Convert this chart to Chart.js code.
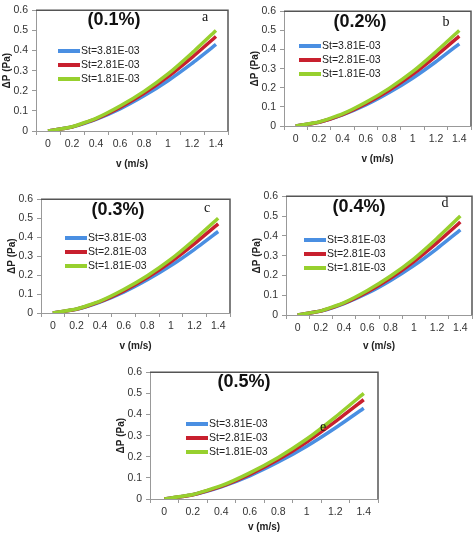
<!DOCTYPE html>
<html>
<head>
<meta charset="utf-8">
<script src="https://cdn.jsdelivr.net/npm/chart.js@4.4.0/dist/chart.umd.min.js"></script>
<style>
  body { margin: 0; background: #fff; }
  #wrap { position: relative; width: 474px; height: 534px; overflow: hidden; }
  canvas { position: absolute; }
</style>
</head>
<body>
<div id="wrap"></div>
<script>
// categorias do eixo x (velocidade, m/s)
const velocity = ['0', '0.2', '0.4', '0.6', '0.8', '1', '1.2', '1.4'];
// nomes das séries
const seriesNames = ['St=3.81E-03', 'St=2.81E-03', 'St=1.81E-03'];
// queda de pressão (Pa) - iguais nos 5 painéis
const dpSt381 = [0, 0.020, 0.058, 0.110, 0.175, 0.250, 0.336, 0.430];
const dpSt281 = [0, 0.020, 0.060, 0.117, 0.187, 0.270, 0.366, 0.470];
const dpSt181 = [0, 0.021, 0.063, 0.124, 0.197, 0.284, 0.388, 0.500];
// títulos e letras dos painéis
const panelTitles = ['(0.1%)', '(0.2%)', '(0.3%)', '(0.4%)', '(0.5%)'];
const panelLetters = ['a', 'b', 'c', 'd', 'e'];
const yTicks = [0, 0.1, 0.2, 0.3, 0.4, 0.5, 0.6];

const colors = ['#4a8fe2', '#c8202e', '#97d02e'];

// posição de cada painel: área do gráfico [esq, topo, dir, base], altura do eixo x, título, letra, legenda
const layout = [
  { plot: [36, 6, 228, 131], xh: 44, title: [114, 20], letter: [205, 17], legend: [58, 51] },
  { plot: [284, 7, 471, 126], xh: 44, title: [360, 22], letter: [446, 22], legend: [299, 46] },
  { plot: [41, 195, 230, 313], xh: 44, title: [118, 210], letter: [207, 208], legend: [65, 238] },
  { plot: [286, 192, 472, 315], xh: 42, title: [359, 207], letter: [445, 203], legend: [304, 240] },
  { plot: [150, 368, 378, 499], xh: 35, title: [244, 382], letter: [323, 427], legend: [186, 424] }
];

const Y_W = 36, PAD_T = 6, PAD_R = 4;

// plugin que desenha a moldura, o título, a letra e a legenda dentro do gráfico
const panelDecor = {
  id: 'panelDecor',
  afterDatasetsDraw(chart, args, opts) {
    const ctx = chart.ctx;
    const a = chart.chartArea;
    ctx.save();
    // moldura superior e direita
    ctx.strokeStyle = '#555';
    ctx.lineWidth = 1.5;
    ctx.beginPath();
    ctx.moveTo(a.left, a.top);
    ctx.lineTo(a.right, a.top);
    ctx.lineTo(a.right, a.bottom);
    ctx.stroke();

    // título do painel
    ctx.fillStyle = '#111';
    ctx.font = 'bold 18px "Liberation Sans", Arial, sans-serif';
    ctx.textAlign = 'center';
    ctx.textBaseline = 'middle';
    ctx.fillText(opts.title, opts.titleX, opts.titleY);

    // letra
    ctx.font = '14px "Liberation Serif", serif';
    ctx.fillText(opts.letter, opts.letterX, opts.letterY);

    // legenda
    ctx.font = '10.5px "Liberation Sans", Arial, sans-serif';
    ctx.textAlign = 'left';
    chart.data.datasets.forEach(function(ds, i) {
      const y = opts.legendY + i * 14;
      ctx.strokeStyle = ds.borderColor;
      ctx.lineWidth = 4;
      ctx.beginPath();
      ctx.moveTo(opts.legendX, y);
      ctx.lineTo(opts.legendX + 22, y);
      ctx.stroke();
      ctx.fillStyle = '#222';
      ctx.fillText(ds.label, opts.legendX + 23, y);
    });
    ctx.restore();
  }
};

const wrap = document.getElementById('wrap');
const seriesData = [dpSt381, dpSt281, dpSt181];

layout.forEach(function(p, idx) {
  const [L, T, R, B] = p.plot;
  const cl = L - Y_W, ct = T - PAD_T;
  const w = R - L + Y_W + PAD_R, h = B - T + PAD_T + p.xh;
  const canvas = document.createElement('canvas');
  canvas.style.left = cl + 'px';
  canvas.style.top = ct + 'px';
  canvas.style.width = w + 'px';
  canvas.style.height = h + 'px';
  canvas.width = w;
  canvas.height = h;
  wrap.appendChild(canvas);

  new Chart(canvas.getContext('2d'), {
    type: 'line',
    data: {
      labels: velocity,
      datasets: seriesData.map(function(vals, i) {
        return {
          label: seriesNames[i],
          data: vals,
          borderColor: colors[i],
          backgroundColor: colors[i],
          borderWidth: 3.5,
          pointRadius: 0,
          tension: 0.15,
          order: 2 - i
        };
      })
    },
    options: {
      responsive: false,
      animation: false,
      layout: { padding: { top: PAD_T, right: PAD_R, left: 0, bottom: 0 } },
      plugins: {
        legend: { display: false },
        tooltip: { enabled: false },
        panelDecor: {
          title: panelTitles[idx], titleX: p.title[0] - cl, titleY: p.title[1] - ct,
          letter: panelLetters[idx], letterX: p.letter[0] - cl, letterY: p.letter[1] - ct,
          legendX: p.legend[0] - cl, legendY: p.legend[1] - ct
        }
      },
      scales: {
        x: {
          type: 'category',
          offset: true,
          afterFit: function(s) { s.height = p.xh; },
          grid: { offset: true, drawOnChartArea: false, drawTicks: true, tickLength: 4, color: '#999' },
          border: { color: '#999', width: 1 },
          ticks: { color: '#333', font: { size: 10.5, family: '"Liberation Sans", Arial, sans-serif' }, maxRotation: 0, autoSkip: false, padding: 3 },
          title: { display: true, text: 'v (m/s)', color: '#222', font: { size: 10, weight: 'bold', family: '"Liberation Sans", Arial, sans-serif' }, padding: { top: 2, bottom: p.xh > 40 ? 5 : 1 } }
        },
        y: {
          min: 0,
          max: 0.6,
          afterFit: function(s) { s.width = Y_W; },
          afterBuildTicks: function(s) { s.ticks = yTicks.map(function(v) { return { value: v }; }); },
          grid: { drawOnChartArea: false, drawTicks: true, tickLength: 4, color: '#999' },
          border: { color: '#999', width: 1 },
          ticks: {
            color: '#333', padding: 4,
            font: { size: 10.5, family: '"Liberation Sans", Arial, sans-serif' },
            callback: function(v) { return String(+v.toFixed(1)); }
          },
          title: { display: true, text: 'ΔP (Pa)', color: '#222', font: { size: 10, weight: 'bold', family: '"Liberation Sans", Arial, sans-serif' }, padding: { top: 1, bottom: 2 } }
        }
      }
    },
    plugins: [panelDecor]
  });
});
</script>
</body>
</html>
